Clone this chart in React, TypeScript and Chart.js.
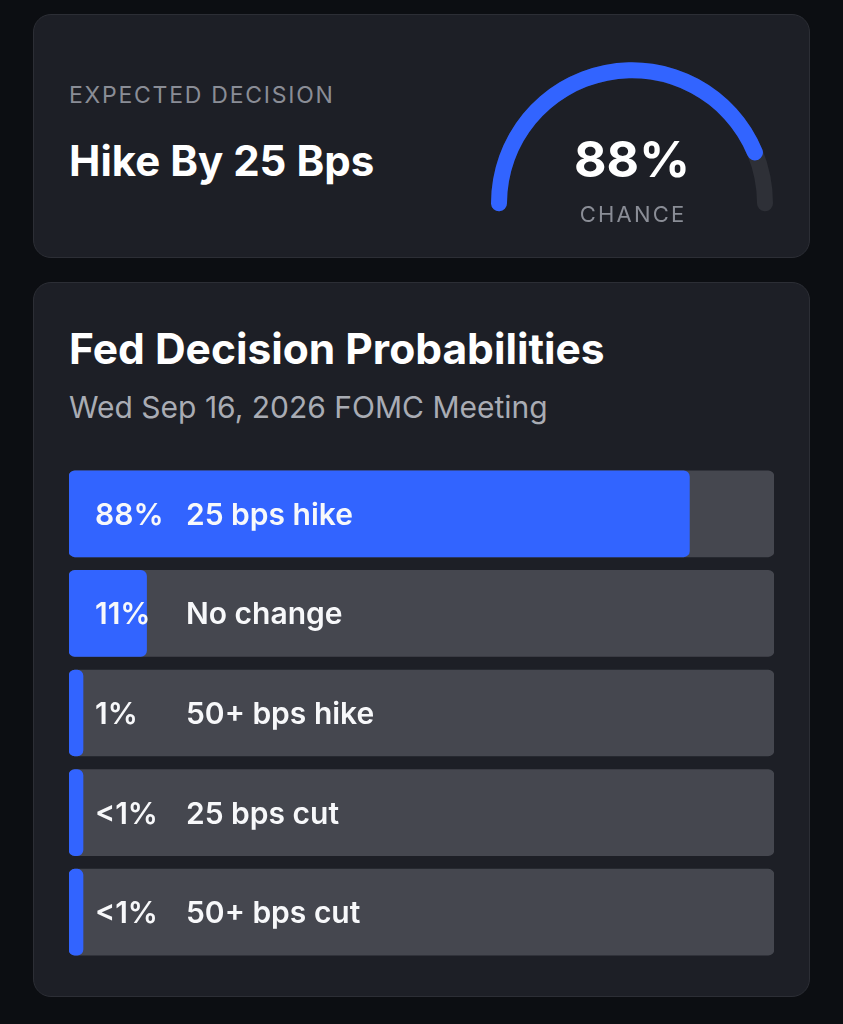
import React, { useEffect, useRef } from "react";
import { Chart, registerables } from "chart.js";

Chart.register(...registerables);

// ---- data ----
const expectedDecision = "Hike By 25 Bps";
const expectedChance = 88;
const categories = ["25 bps hike", "No change", "50+ bps hike", "25 bps cut", "50+ bps cut"];
const probabilities = [88, 11, 1, 0.4, 0.2];
const probabilityLabels = ["88%", "11%", "1%", "<1%", "<1%"];
const trackValues = [100, 100, 100, 100, 100];
const chartTitle = "Fed Decision Probabilities";
const chartSubtitle = "Wed Sep 16, 2026 FOMC Meeting";

// ---- style ----
const BLUE = "#3264ff";
const TRACK = "#45474f";
const GAUGE_TRACK = "#2e3037";
const CARD_BG = "#1d1f26";
const CARD_BORDER = "#2c2e35";
const PAGE_BG = "#0c0e12";
const FONT = "Inter, 'Noto Sans', sans-serif";
const BAR_FONT_SIZE = 30;

// baseline helper for Inter (line-height = font size)
const topFor = (baseline: number, size: number) => baseline - 0.8635 * size;

const GAUGE_R = 141;
const GAUGE_IN = 125;
const CAP_DEG = ((GAUGE_R - GAUGE_IN) / 2 / ((GAUGE_R + GAUGE_IN) / 2)) * (180 / Math.PI);

function Gauge() {
  const trackRef = useRef<HTMLCanvasElement>(null);
  const valRef = useRef<HTMLCanvasElement>(null);
  useEffect(() => {
    const common: any = {
      responsive: false,
      animation: false,
      circumference: 180 + 2 * CAP_DEG,
      rotation: -90 - CAP_DEG,
      radius: GAUGE_R,
      cutout: (GAUGE_IN / GAUGE_R) * 100 + "%",
      layout: { padding: 0 },
      plugins: { legend: { display: false }, tooltip: { enabled: false } },
      events: [],
    };
    const t = new Chart(trackRef.current!, {
      type: "doughnut",
      data: {
        datasets: [
          {
            data: [100],
            backgroundColor: [GAUGE_TRACK],
            borderWidth: 0,
            borderRadius: 8,
          },
        ],
      },
      options: common,
    });
    const v = new Chart(valRef.current!, {
      type: "doughnut",
      data: {
        datasets: [
          {
            data: [expectedChance, 100 - expectedChance],
            backgroundColor: [BLUE, "rgba(0,0,0,0)"],
            borderWidth: 0,
            borderRadius: 8,
          },
        ],
      },
      options: common,
    });
    return () => {
      t.destroy();
      v.destroy();
    };
  }, []);
  const st: React.CSSProperties = { position: "absolute", left: 482, top: 52, width: 300, height: 170 };
  return (
    <>
      <canvas ref={trackRef} width={300} height={170} style={st} />
      <canvas ref={valRef} width={300} height={170} style={st} />
    </>
  );
}

function Bars() {
  const ref = useRef<HTMLCanvasElement>(null);
  useEffect(() => {
    const labelPlugin = {
      id: "barLabels",
      afterDatasetsDraw(chart: any) {
        const ctx = chart.ctx;
        const meta = chart.getDatasetMeta(0);
        const left = chart.chartArea.left;
        ctx.save();
        ctx.fillStyle = "#f7f8fa";
        ctx.font = `600 ${BAR_FONT_SIZE}px ${FONT}`;
        ctx.textBaseline = "alphabetic";
        ctx.textAlign = "left";
        meta.data.forEach((el: any, i: number) => {
          const y = el.y + 0.3635 * BAR_FONT_SIZE;
          ctx.fillText(probabilityLabels[i], left + 26, y);
          ctx.fillText(categories[i], left + 117, y);
        });
        ctx.restore();
      },
    };
    const c = new Chart(ref.current!, {
      type: "bar",
      data: {
        labels: categories,
        datasets: [
          {
            data: probabilities,
            backgroundColor: BLUE,
            borderRadius: 6,
            borderSkipped: false,
            minBarLength: 14,
            barThickness: 86,
            grouped: false,
          } as any,
          {
            data: trackValues,
            backgroundColor: TRACK,
            borderRadius: 6,
            borderSkipped: false,
            barThickness: 86,
            grouped: false,
          } as any,
        ],
      },
      options: {
        indexAxis: "y",
        responsive: false,
        animation: false,
        events: [],
        layout: { padding: 0 },
        scales: {
          x: { display: false, min: 0, max: 100 },
          y: { display: false },
        },
        plugins: { legend: { display: false }, tooltip: { enabled: false } },
      },
      plugins: [labelPlugin],
    });
    return () => c.destroy();
  }, []);
  return (
    <canvas
      ref={ref}
      width={705}
      height={498}
      style={{ position: "absolute", left: 69, top: 464, width: 705, height: 498 }}
    />
  );
}

export default function App() {
  const card: React.CSSProperties = {
    position: "absolute",
    left: 33,
    width: 777,
    background: CARD_BG,
    border: `1px solid ${CARD_BORDER}`,
    borderRadius: 18,
    boxSizing: "border-box",
  };
  const txt = (size: number, baseline: number, extra: React.CSSProperties): React.CSSProperties => ({
    position: "absolute",
    top: topFor(baseline, size),
    fontFamily: FONT,
    fontSize: size,
    lineHeight: `${size}px`,
    whiteSpace: "nowrap",
    margin: 0,
    ...extra,
  });
  return (
    <div style={{ position: "relative", width: 843, height: 1024, background: PAGE_BG, overflow: "hidden", fontFamily: FONT }}>
      <style>{`body{margin:0;background:${PAGE_BG};}`}</style>
      <div style={{ ...card, top: 14, height: 244 }} />
      <div style={{ ...card, top: 282, height: 715 }} />
      <div style={txt(23, 103.5, { left: 69, color: "#8a8d96", letterSpacing: 1.75, fontWeight: 400 })}>EXPECTED DECISION</div>
      <div style={txt(42, 176.7, { left: 69, color: "#ffffff", fontWeight: 700 })}>{expectedDecision}</div>
      <Gauge />
      <div style={txt(50, 176.7, { left: 532, width: 200, textAlign: "center", color: "#ffffff", fontWeight: 700 })}>
        {expectedChance}%
      </div>
      <div style={txt(22, 221.7, { left: 532, width: 200, textAlign: "center", color: "#8a8d96", letterSpacing: 2.2, paddingLeft: 2.2, boxSizing: "border-box", fontWeight: 400 })}>
        CHANCE
      </div>
      <div style={txt(42.5, 365, { left: 69, color: "#ffffff", fontWeight: 700 })}>{chartTitle}</div>
      <div style={txt(30, 418.3, { left: 69, color: "#a9acb4", fontWeight: 400 })}>{chartSubtitle}</div>
      <Bars />
    </div>
  );
}
